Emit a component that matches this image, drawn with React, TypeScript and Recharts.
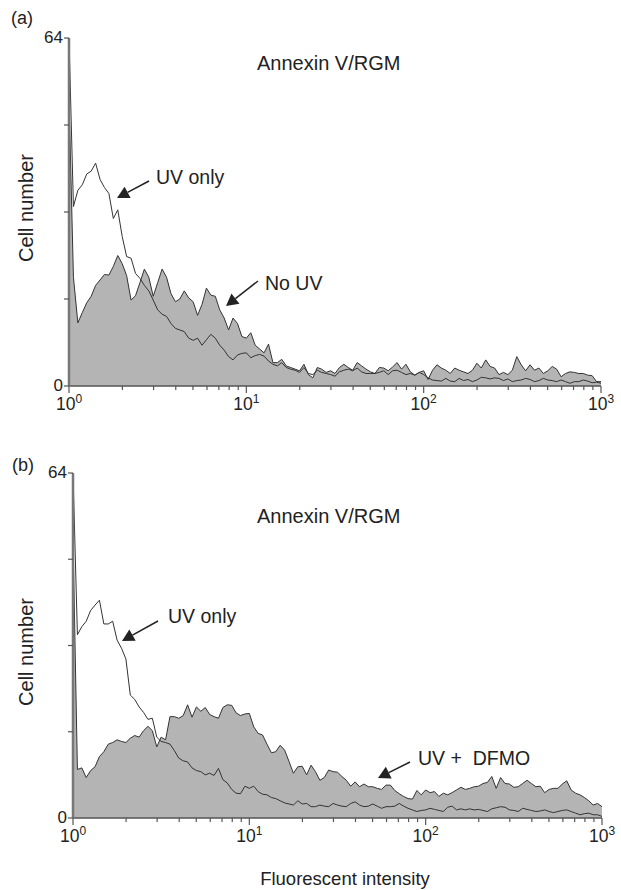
import { ComposedChart, Area, Line, XAxis, YAxis } from "recharts";

const FONT = '"Liberation Sans", Arial, Helvetica, sans-serif';
const INK = "#222";
const AXIS = "#555";
const FILL = "#b4b4b4";
const TRACE = "#333";

// histogram channels: 40 per decade, channel 0 = 10^0, channel 120 = 10^3
const CHANNELS_PER_DECADE = 40;

const X_TICKS = [
  1, 2, 3, 4, 5, 6, 7, 8, 9,
  10, 20, 30, 40, 50, 60, 70, 80, 90,
  100, 200, 300, 400, 500, 600, 700, 800, 900,
  1000,
];
const X_MAJOR_TICKS = [1, 10, 100, 1000];
const X_TICK_EXPONENTS = ["0", "1", "2", "3"];
const Y_TICKS = [0, 16, 32, 48, 64];
const Y_TICK_LABELS = ["0", "", "", "", "64"];

// (a) No UV (filled) and UV only (open)
const NO_UV_A = [
  53, 20, 11.6, 13.5, 15.3, 16.5, 18.5, 19.5, 20.5, 20.4,
  22, 24, 22.5, 20.3, 15.8, 16.6, 19, 21.5, 20, 16.5,
  19, 21.5, 20, 17, 15.5, 16, 17.5, 16.2, 15.5, 13,
  15, 18, 16.7, 16.5, 14, 12.5, 10.3, 12.5, 11.5, 9.1,
  8.8, 9.8, 7.5, 6.8, 6.1, 7.7, 4.3, 4.3, 4.9, 3.7,
  3.4, 3.1, 2.8, 4, 2.1, 1.5, 3.4, 3.1, 2.5, 2.8,
  2.3, 3.4, 4, 3.4, 2.9, 4.3, 3.7, 3.1, 2.6, 2.3,
  3.4, 3.3, 2.8, 3.5, 4.3, 3.1, 4, 2.6, 2, 2.5,
  2.8, 1.2, 2.9, 3.9, 3.3, 2.9, 2.3, 3.3, 2.9, 2.6,
  2.3, 2.9, 4.2, 3.3, 4.8, 3.6, 3.3, 2.1, 2.5, 2.1,
  2.9, 5.4, 3.9, 2.8, 3.9, 2.9, 3.3, 2.3, 2.8, 3.6,
  3.1, 1.7, 2.3, 2.6, 2.5, 2.3, 2.3, 2, 1.9, 0.8,
  0.8,
];
const UV_ONLY_A = [
  64, 33, 36, 37, 39, 39.5, 41, 38, 36.5, 35.4,
  30.8, 32.4, 27.5, 23.8, 23.5, 20.7, 19.8, 18.5, 17.5, 15.8,
  14, 13.2, 12.8, 11.5, 10.6, 10.3, 10, 8.8, 8.4, 8.8,
  7.5, 8.5, 9.5, 8.8, 7.5, 6.6, 5.4, 4.8, 5.7, 6,
  6.1, 5.2, 5.6, 5.8, 5.5, 4.6, 4, 3.7, 4.3, 3.4,
  3.1, 2.9, 2.5, 3.4, 2.3, 2.1, 2.9, 2.5, 2.3, 2.1,
  1.8, 2.6, 2.9, 3.1, 2.8, 3.3, 2.6, 2.3, 2.3, 2.3,
  2.5, 2.8, 2.1, 2.8, 2.9, 2.5, 2.1, 2.3, 2, 2.5,
  2.1, 1.5, 1.1, 1.0, 0.9, 1.4, 0.9, 0.8, 1.4, 1.0,
  1.2, 0.8, 1.1, 1.6, 1.5, 1.3, 1.5, 1.4, 1.0, 1.3,
  0.8, 1.0, 1.1, 1.4, 1.2, 0.8, 1.0, 1.4, 1.1, 1.0,
  0.8, 1.1, 0.8, 0.5, 0.8, 0.8, 1.1, 0.9, 0.6, 0.7,
  0.5,
];

// (b) UV + DFMO (filled) and UV only (open)
const DFMO_B = [
  52, 9, 9.3, 7.5, 8.8, 9.5, 11.4, 12.3, 13.7, 14,
  14.5, 14.2, 14, 14.8, 15.3, 15, 16.2, 17, 16.2, 13.2,
  15, 14.5, 18.8, 18.8, 18.5, 19, 21, 18.7, 20.6, 19.8,
  20.5, 19.2, 18.8, 18.5, 20.5, 21, 20.9, 19.5, 19, 19.3,
  19.4, 16.9, 15.7, 15.4, 13.7, 12.1, 12.3, 13.5, 12.6, 10.5,
  8.3, 9.5, 9.6, 8, 9.8, 8.6, 7, 7.5, 8.9, 8.6,
  8.5, 7.7, 7, 5.9, 6.7, 5.8, 6.3, 5.8, 5.8, 5.5,
  5.3, 6.1, 6.1, 5.1, 4.5, 4, 3.6, 3.5, 5.1, 4.3,
  5.2, 4.7, 4.9, 4, 4.6, 4.3, 4.7, 5.2, 5.7, 5.3,
  5.5, 5.8, 5.9, 6.4, 6.6, 7.7, 5.5, 7.5, 6.4, 6.3,
  5.7, 5.8, 6.4, 7, 6.4, 5.8, 5.9, 4.7, 5.3, 5.5,
  5.5, 6.3, 6.9, 5.2, 4.6, 4.3, 3.8, 3.2, 2.4, 2.7,
  2.1,
];
const UV_ONLY_B = [
  64, 34, 35.5, 36.5, 38.5, 39.5, 40.4, 36, 36, 36.5,
  33, 31.5, 29.5, 22.8, 22, 20.6, 19.6, 18.3, 18.5, 15,
  14.2, 14, 13.7, 12.5, 11.1, 10.6, 10.4, 9.3, 8.8, 8.6,
  8, 8.3, 7.9, 9.2, 7.1, 6.5, 5.3, 4.6, 4.5, 5.9,
  5.5, 5.9, 4.9, 4.4, 4.3, 3.8, 3.6, 3.2, 2.8, 2.6,
  2.4, 3.2, 2.6, 2.7, 2.1, 2.1, 2.4, 2.2, 2.1, 2.7,
  2.4, 2.2, 2.1, 2.7, 3, 2.4, 2.1, 2.2, 2.6, 2.2,
  1.8, 2.1, 2.1, 2.2, 2.7, 2.2, 1.8, 1.5, 1.2, 1.4,
  1.5, 1.8, 1.6, 1.4, 1.2, 2.0, 2.2, 1.5, 1.7, 1.5,
  1.7, 1.5, 1.6, 1.4, 1.2, 1.7, 1.9, 2.1, 2.0, 1.5,
  1.4, 1.2, 1.8, 1.6, 1.4, 1.2, 1.3, 1.5, 1.2, 1.0,
  1.2, 1.4, 1.5, 1.2, 0.9, 0.6, 0.8, 0.9, 0.6, 0.6,
  0.3,
];

function buildRows(filled: number[], open: number[]) {
  return filled.map((v, i) => ({
    x: 10 ** (i / CHANNELS_PER_DECADE),
    filled: v,
    open: open[i],
  }));
}

function XTick(props: any) {
  const { x, y, payload } = props;
  const idx = X_MAJOR_TICKS.indexOf(payload.value);
  const major = idx >= 0;
  return (
    <g>
      <line x1={x} x2={x} y1={y} y2={y + (major ? 7 : 4)} stroke={AXIS} strokeWidth={1.2} />
      {major && (
        <text x={x} y={y + 24} textAnchor="middle" fontSize={17.5} fill={INK} fontFamily={FONT}>
          10
          <tspan dy={-7} fontSize={12}>
            {X_TICK_EXPONENTS[idx]}
          </tspan>
        </text>
      )}
    </g>
  );
}

function YTick(props: any) {
  const { x, y, payload } = props;
  const label = Y_TICK_LABELS[Y_TICKS.indexOf(payload.value)];
  return (
    <g>
      <line x1={x - 5} x2={x} y1={y} y2={y} stroke={AXIS} strokeWidth={1.2} />
      {label && (
        <text x={x - 6} y={y + 4.5} textAnchor="end" fontSize={17} fill={INK} fontFamily={FONT}>
          {label}
        </text>
      )}
    </g>
  );
}

interface PanelProps {
  rows: { x: number; filled: number; open: number }[];
  height: number;
  margin: { top: number; right: number; bottom: number; left: number };
  xAxisHeight: number;
}

function Panel({ rows, height, margin, xAxisHeight }: PanelProps) {
  return (
    <ComposedChart width={621} height={height} data={rows} margin={margin}>
      <XAxis
        dataKey="x"
        type="number"
        scale="log"
        domain={[1, 1000]}
        allowDataOverflow
        ticks={X_TICKS}
        interval={0}
        tick={<XTick />}
        tickLine={false}
        tickSize={0}
        tickMargin={0}
        height={xAxisHeight}
        axisLine={{ stroke: AXIS, strokeWidth: 1.5 }}
      />
      <YAxis
        type="number"
        domain={[0, 64]}
        allowDataOverflow
        ticks={Y_TICKS}
        interval={0}
        tick={<YTick />}
        tickLine={false}
        tickSize={0}
        tickMargin={0}
        width={40}
        axisLine={{ stroke: "#777", strokeWidth: 2.5 }}
      />
      <Area
        dataKey="filled"
        type="linear"
        stroke={TRACE}
        strokeWidth={1}
        fill={FILL}
        fillOpacity={1}
        isAnimationActive={false}
      />
      <Line
        dataKey="open"
        type="linear"
        stroke={TRACE}
        strokeWidth={1}
        dot={false}
        isAnimationActive={false}
      />
    </ComposedChart>
  );
}

function Arrow({ from, to }: { from: [number, number]; to: [number, number] }) {
  const dx = to[0] - from[0];
  const dy = to[1] - from[1];
  const len = Math.hypot(dx, dy);
  const ux = dx / len;
  const uy = dy / len;
  const head = 12;
  const half = 6.5;
  const bx = to[0] - ux * head;
  const by = to[1] - uy * head;
  const pts = [
    [to[0], to[1]],
    [bx - uy * half, by + ux * half],
    [bx + uy * half, by - ux * half],
  ]
    .map((p) => p.join(","))
    .join(" ");
  return (
    <g>
      <line x1={from[0]} y1={from[1]} x2={bx} y2={by} stroke={INK} strokeWidth={1.5} />
      <polygon points={pts} fill={INK} />
    </g>
  );
}

export default function App() {
  const rowsA = buildRows(NO_UV_A, UV_ONLY_A);
  const rowsB = buildRows(DFMO_B, UV_ONLY_B);
  const text = { fontFamily: FONT, fill: INK };

  return (
    <div
      style={{
        position: "absolute",
        left: 0,
        top: 0,
        width: 621,
        height: 890,
        background: "#fff",
        overflow: "hidden",
      }}
    >
      <div style={{ position: "absolute", left: 0, top: 0 }}>
        <Panel
          rows={rowsA}
          height={420}
          margin={{ top: 38, right: 20, bottom: 0, left: 29 }}
          xAxisHeight={34}
        />
      </div>
      <div style={{ position: "absolute", left: 0, top: 430 }}>
        <Panel
          rows={rowsB}
          height={424}
          margin={{ top: 43, right: 19, bottom: 0, left: 33 }}
          xAxisHeight={36}
        />
      </div>
      <svg
        width={621}
        height={890}
        style={{ position: "absolute", left: 0, top: 0, pointerEvents: "none" }}
      >
        <text x={11} y={24} fontSize={18} {...text}>(a)</text>
        <text x={12} y={471} fontSize={18} {...text}>(b)</text>

        <text x={33} y={208} fontSize={20} textAnchor="middle" transform="rotate(-90 33 208)" {...text}>
          Cell number
        </text>
        <text x={33} y={652} fontSize={20} textAnchor="middle" transform="rotate(-90 33 652)" {...text}>
          Cell number
        </text>

        <text x={257} y={70} fontSize={20} {...text}>Annexin V/RGM</text>
        <text x={257} y={523} fontSize={20} {...text}>Annexin V/RGM</text>

        <text x={156} y={184} fontSize={19.5} {...text}>UV only</text>
        <Arrow from={[149, 181]} to={[117, 198]} />
        <text x={265} y={290} fontSize={19.5} {...text}>No UV</text>
        <Arrow from={[258, 281]} to={[226, 306]} />

        <text x={168} y={623} fontSize={19.5} {...text}>UV only</text>
        <Arrow from={[158, 621]} to={[122, 641]} />
        <text x={418} y={765} fontSize={19.5} {...text} style={{ whiteSpace: "pre" }}>
          UV +  DFMO
        </text>
        <Arrow from={[410, 762]} to={[378, 778]} />

        <text x={345} y={885} fontSize={18.5} textAnchor="middle" {...text}>
          Fluorescent intensity
        </text>
      </svg>
    </div>
  );
}
